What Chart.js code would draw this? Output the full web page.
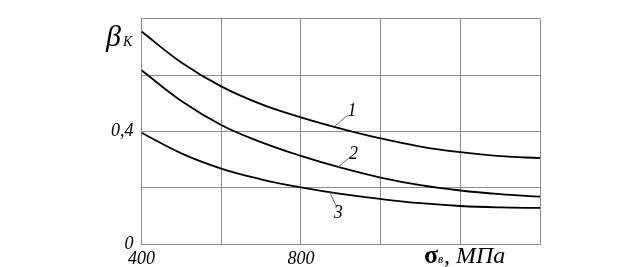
<!DOCTYPE html>
<html lang="ru">
<head>
    <meta charset="UTF-8">
    <title>βK – σв</title>
    <script src="https://cdn.jsdelivr.net/npm/chart.js"></script>
    <style>
        body { margin: 0; background: #fff; }
        #wrap { width: 623px; height: 267px; }
    </style>
</head>
<body>
    <div id="wrap"><canvas id="myChart" width="623" height="267"></canvas></div>
    <script>
        // sigma_v, MPa
        const sigma = [400, 500, 600, 700, 800, 900, 1000, 1100, 1200, 1300, 1400];
        const curve1 = [0.755, 0.645, 0.560, 0.497, 0.450, 0.410, 0.375, 0.346, 0.326, 0.312, 0.305];
        const curve2 = [0.617, 0.508, 0.423, 0.362, 0.313, 0.271, 0.236, 0.209, 0.190, 0.177, 0.168];
        const curve3 = [0.395, 0.322, 0.268, 0.230, 0.201, 0.178, 0.160, 0.145, 0.135, 0.130, 0.128];
        const xTickLabels = { 400: '400', 800: '800' };
        const yTickLabels = ['0', '0,4'];   // at 0 and 0.4
        const curveNames = ['1', '2', '3'];

        const gridColor = '#8c8c8c';
        const serif = '"Liberation Serif", "DejaVu Serif", serif';

        const mk = (arr) => sigma.map((x, i) => ({ x: x, y: arr[i] }));

        // numbers with short leader lines, plus axis titles
        const notes = {
            id: 'notes',
            afterDraw(chart) {
                const ctx = chart.ctx;
                const xs = chart.scales.x, ys = chart.scales.y;
                const px = v => xs.getPixelForValue(v), py = v => ys.getPixelForValue(v);
                ctx.save();
                ctx.fillStyle = '#000';
                ctx.strokeStyle = '#666';
                ctx.lineWidth = 1;
                // leader from [x1,y1] to [x2,y2], label at [x,y]
                const leaders = [
                    [886, 0.420, 918, 0.458, 928, 0.470],
                    [892, 0.272, 920, 0.305, 932, 0.318],
                    [872, 0.185, 888, 0.136, 894, 0.108]
                ];
                ctx.font = 'italic 18px ' + serif;
                ctx.textAlign = 'center';
                ctx.textBaseline = 'middle';
                leaders.forEach((l, i) => {
                    ctx.beginPath();
                    ctx.moveTo(px(l[0]), py(l[1]));
                    ctx.lineTo(px(l[2]), py(l[3]));
                    ctx.stroke();
                    ctx.fillText(curveNames[i], px(l[4]), py(l[5]));
                });

                ctx.textAlign = 'left';
                ctx.textBaseline = 'alphabetic';
                // y title
                ctx.font = 'italic 30px ' + serif;
                ctx.fillText('β', 106, 46);
                ctx.font = 'italic 14px ' + serif;
                ctx.fillText('K', 123, 46);
                // x title
                ctx.font = 'bold 26px ' + serif;
                ctx.fillText('σ', 424, 263);
                ctx.font = 'italic 12px ' + serif;
                ctx.fillText('в', 438, 263);
                ctx.font = 'italic 24px ' + serif;
                ctx.fillText(', МПа', 444, 263);
                ctx.restore();
            }
        };

        const lineStyle = {
            borderColor: '#000',
            borderWidth: 1.8,
            pointRadius: 0,
            fill: false,
            tension: 0.4
        };

        new Chart(document.getElementById('myChart').getContext('2d'), {
            type: 'line',
            data: {
                datasets: [
                    Object.assign({ label: '1', data: mk(curve1) }, lineStyle),
                    Object.assign({ label: '2', data: mk(curve2) }, lineStyle),
                    Object.assign({ label: '3', data: mk(curve3) }, lineStyle)
                ]
            },
            options: {
                responsive: false,
                animation: false,
                layout: { padding: { left: 0, right: 83, top: 15, bottom: 0 } },
                plugins: { legend: { display: false }, tooltip: { enabled: false } },
                scales: {
                    x: {
                        type: 'linear',
                        min: 400, max: 1400,
                        afterFit: s => { s.height = 23; },
                        grid: { color: gridColor, lineWidth: 1, drawTicks: false },
                        border: { color: gridColor },
                        ticks: {
                            stepSize: 200,
                            padding: 4,
                            maxRotation: 0,
                            color: '#000',
                            font: { family: serif, style: 'italic', size: 18 },
                            callback: v => xTickLabels[v] || ''
                        }
                    },
                    y: {
                        min: 0, max: 0.8,
                        afterFit: s => { s.width = 141.5; },
                        grid: { color: gridColor, lineWidth: 1, drawTicks: false },
                        border: { color: gridColor },
                        ticks: {
                            stepSize: 0.2,
                            padding: 8,
                            color: '#000',
                            font: { family: serif, style: 'italic', size: 18 },
                            callback: v => {
                                if (Math.abs(v) < 1e-6) return yTickLabels[0];
                                if (Math.abs(v - 0.4) < 1e-6) return yTickLabels[1];
                                return '';
                            }
                        }
                    }
                }
            },
            plugins: [notes]
        });
    </script>
</body>
</html>
